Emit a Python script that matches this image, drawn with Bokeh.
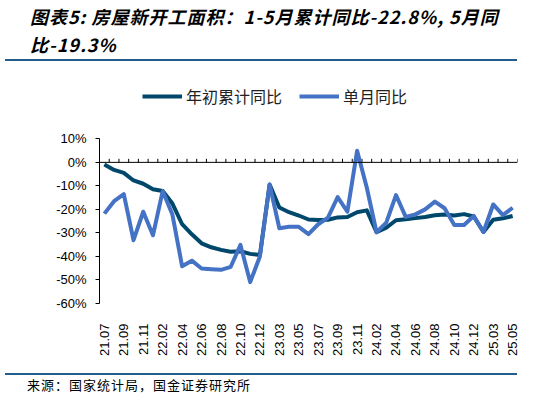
from math import pi
from bokeh.plotting import figure
from bokeh.models import (Range1d, FixedTicker, Span, Legend, LegendItem, Div,
                          PrintfTickFormatter)
from bokeh.layouts import column
from bokeh.embed import file_html
from bokeh.resources import INLINE

# data, % yoy
months = ["21.07", "21.08", "21.09", "21.10", "21.11", "21.12",
          "22.02", "22.03", "22.04", "22.05", "22.06", "22.07", "22.08", "22.09", "22.10", "22.11", "22.12",
          "23.02", "23.03", "23.04", "23.05", "23.06", "23.07", "23.08", "23.09", "23.10", "23.11", "23.12",
          "24.02", "24.03", "24.04", "24.05", "24.06", "24.07", "24.08", "24.09", "24.10", "24.11", "24.12",
          "25.02", "25.03", "25.04", "25.05"]
cum_yoy = [-0.9, -3.2, -4.5, -7.7, -9.1, -11.4,
           -12.2, -17.5, -26.3, -30.6, -34.4, -36.1, -37.2, -38.0, -37.8, -38.9, -39.4,
           -9.4, -19.2, -21.2, -22.6, -24.3, -24.5, -24.4, -23.4, -23.2, -21.2, -20.4,
           -29.7, -27.8, -24.6, -24.2, -23.7, -23.2, -22.5, -22.2, -22.6, -22.0, -23.0,
           -29.6, -24.4, -23.8, -22.8]
month_yoy = [-21.8, -16.5, -13.5, -33.1, -21.0, -31.0,
             -12.2, -22.2, -44.2, -41.8, -45.1, -45.4, -45.7, -44.4, -35.1, -50.9, -40.0,
             -9.4, -28.0, -27.4, -27.4, -30.5, -26.3, -23.5, -14.8, -21.0, 4.9, -10.8,
             -29.7, -25.6, -13.9, -23.2, -22.1, -20.0, -16.7, -19.5, -26.6, -26.6, -22.8,
             -29.6, -17.9, -22.4, -19.3]
series_names = ["年初累计同比", "单月同比"]
y_ticks = [10, 0, -10, -20, -30, -40, -50, -60]
title_lines = ["图表5: 房屋新开工面积：1-5月累计同比-22.8%, 5月同", "比-19.3%"]
source_text = "来源：国家统计局，国金证券研究所"

CJK = "Noto Sans CJK SC"
SEP = "#245C8C"

x = list(range(len(months)))

# frame reaches up to the legend row; the y axis line is bounded to -60..10
p = figure(width=543, height=302, output_backend="svg", toolbar_location=None,
           x_range=Range1d(-0.5, len(months) - 0.5), y_range=Range1d(-60, 34.8),
           min_border_left=99, min_border_right=26, min_border_top=14, min_border_bottom=65)
p.outline_line_color = None
p.xgrid.visible = False
p.ygrid.visible = False

# zero line with small category ticks
p.add_layout(Span(location=0, dimension="width", line_color="black", line_width=1))
edges = [i - 0.5 for i in range(len(months) + 1)]
p.segment(x0=edges, y0=[0] * len(edges), x1=edges, y1=[1.5] * len(edges),
          line_color="black", line_width=1)

r1 = p.line(x, cum_yoy, line_color="#00486B", line_width=4, line_join="round")
r2 = p.line(x, month_yoy, line_color="#4472C4", line_width=4, line_join="round")

xa = p.xaxis[0]
xa.ticker = FixedTicker(ticks=x[::2])
xa.major_label_overrides = {i: months[i] for i in x[::2]}
xa.major_label_orientation = pi / 2
xa.axis_line_color = None
xa.major_tick_line_color = None
xa.minor_tick_line_color = None
xa.major_label_standoff = 14
xa.major_label_text_font = "Liberation Sans"
xa.major_label_text_font_size = "13px"
xa.major_label_text_color = "black"

ya = p.yaxis[0]
ya.ticker = FixedTicker(ticks=y_ticks)
ya.bounds = (-60, 10)
ya.formatter = PrintfTickFormatter(format="%d%%")
ya.axis_line_color = "black"
ya.major_tick_in = 0
ya.major_tick_out = 4
ya.minor_tick_line_color = None
ya.major_label_standoff = 9
ya.major_label_text_font = "Liberation Sans"
ya.major_label_text_font_size = "13px"
ya.major_label_text_color = "black"

legend = Legend(items=[LegendItem(label=series_names[0], renderers=[r1]),
                       LegendItem(label=series_names[1], renderers=[r2])],
                location=(43, 195), orientation="horizontal", padding=0, margin=0,
                spacing=17, glyph_width=40, glyph_height=20, label_standoff=4,
                label_text_font=CJK, label_text_font_size="16px", label_text_color="#222",
                border_line_color=None, background_fill_alpha=0)
p.add_layout(legend)

title_div = Div(width=543, height=56, text=(
    "<div style=\"height:54px;margin-top:-3px;font-family:'%s';font-size:18px;font-weight:bold;"
    "font-style:italic;line-height:28px;letter-spacing:1px;white-space:nowrap;padding-left:25px;color:#000\">"
    "%s<br>%s</div>"
    "<div style=\"height:2px;width:512px;margin-top:3px;background:%s\"></div>"
) % (CJK, title_lines[0], title_lines[1], SEP))

source_div = Div(width=543, height=25, text=(
    "<div style=\"height:2px;width:512px;background:%s\"></div>"
    "<div style=\"font-family:'%s';font-size:13px;letter-spacing:1px;line-height:20px;"
    "padding-left:22px;color:#000\">%s</div>"
) % (SEP, CJK, source_text))

layout = column(title_div, p, source_div)
open("out.html", "w").write(file_html(layout, INLINE))
